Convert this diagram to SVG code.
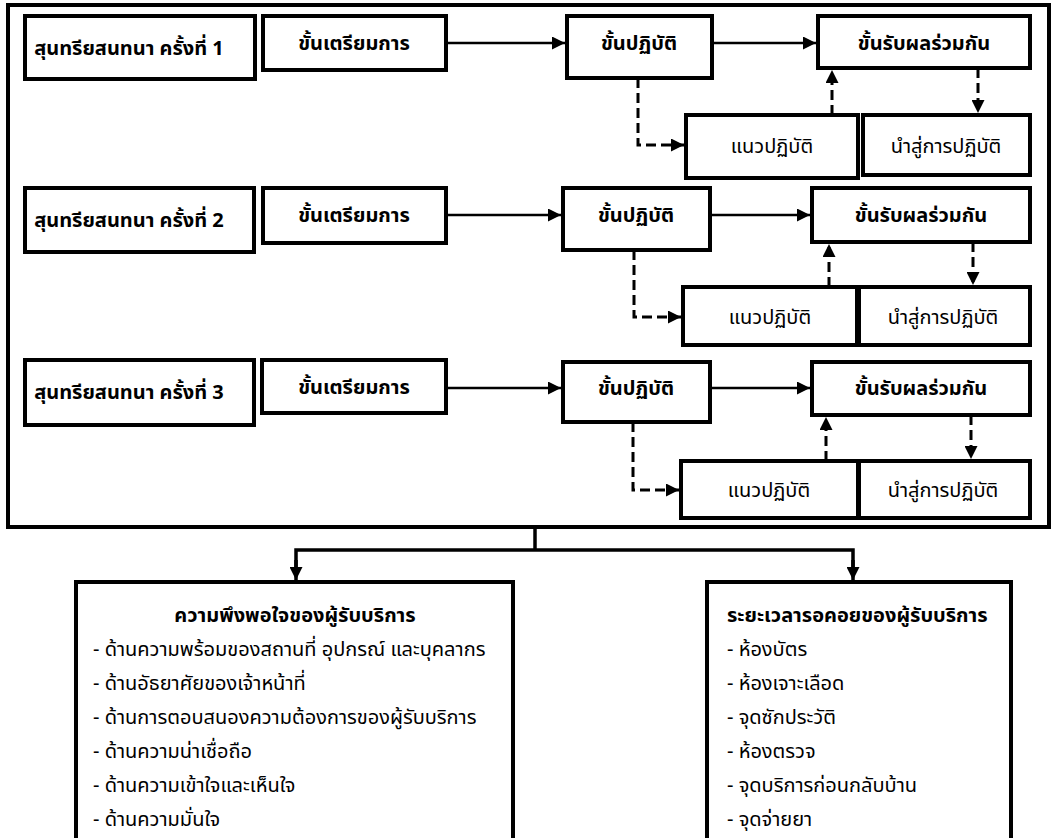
<svg xmlns="http://www.w3.org/2000/svg" width="1057" height="838" viewBox="0 0 1057 838">
<defs>
<marker id="arr" viewBox="0 0 12 12" refX="12" refY="6" markerWidth="13" markerHeight="13" markerUnits="userSpaceOnUse" orient="auto"><path d="M0,0 L12,6 L0,12 Z" fill="#000"/></marker>
</defs>
<style>
.box{fill:#fff;stroke:#000;stroke-width:4}
.frame{fill:#fff;stroke:#000;stroke-width:4}
.t{font-family:"Noto Sans Thai","Noto Sans","Tahoma","DejaVu Sans",sans-serif;font-size:20px;fill:#000}
.b{font-weight:bold}
.c{text-anchor:middle}
.sol{fill:none;stroke:#000;stroke-width:2.5}
.dash{fill:none;stroke:#000;stroke-width:3;stroke-dasharray:10,5}
.thick{fill:none;stroke:#000;stroke-width:3.5}
</style>
<rect width="1057" height="838" fill="#fff"/>
<rect id="frame" class="frame" x="8" y="5" width="1041" height="522"/>

<g id="connectors">
<line class="sol" x1="446" y1="43" x2="565" y2="43" marker-end="url(#arr)"/>
<line class="sol" x1="712" y1="43" x2="816" y2="43" marker-end="url(#arr)"/>
<polyline class="dash" points="638,78 638,145 684,145" marker-end="url(#arr)"/>
<line class="dash" x1="832" y1="115" x2="832" y2="70" marker-end="url(#arr)"/>
<line class="dash" x1="978" y1="68" x2="978" y2="113" marker-end="url(#arr)"/>

<line class="sol" x1="446" y1="215" x2="561" y2="215" marker-end="url(#arr)"/>
<line class="sol" x1="710" y1="215" x2="810" y2="215" marker-end="url(#arr)"/>
<polyline class="dash" points="634,250 634,317 681,317" marker-end="url(#arr)"/>
<line class="dash" x1="829" y1="287" x2="829" y2="244" marker-end="url(#arr)"/>
<line class="dash" x1="973" y1="242" x2="973" y2="285" marker-end="url(#arr)"/>

<line class="sol" x1="446" y1="388" x2="561" y2="388" marker-end="url(#arr)"/>
<line class="sol" x1="710" y1="388" x2="810" y2="388" marker-end="url(#arr)"/>
<polyline class="dash" points="633,422 633,490 679,490" marker-end="url(#arr)"/>
<line class="dash" x1="826" y1="461" x2="826" y2="417" marker-end="url(#arr)"/>
<line class="dash" x1="971" y1="415" x2="971" y2="459" marker-end="url(#arr)"/>

<polyline class="thick" points="535,527 535,550"/>
<polyline class="thick" points="296,570 296,550 853,550 853,570"/>
<line class="thick" x1="296" y1="560" x2="296" y2="580" marker-end="url(#arr)"/>
<line class="thick" x1="853" y1="560" x2="853" y2="580" marker-end="url(#arr)"/>
</g>

<g id="r1a"><rect class="box" x="25" y="16" width="230" height="63"/><text class="t b c" x="129" y="55">สุนทรียสนทนา ครั้งที่ 1</text></g>
<g id="r1b"><rect class="box" x="263" y="16" width="183" height="54"/><text class="t b c" x="354" y="50">ขั้นเตรียมการ</text></g>
<g id="r1c"><rect class="box" x="567" y="16" width="145" height="62"/><text class="t b c" x="639" y="50">ขั้นปฏิบัติ</text></g>
<g id="r1d"><rect class="box" x="818" y="16" width="212" height="52"/><text class="t b c" x="924" y="50">ขั้นรับผลร่วมกัน</text></g>
<g id="r1e"><rect class="box" x="686" y="115" width="172" height="63"/><text class="t c" x="772" y="153">แนวปฏิบัติ</text></g>
<g id="r1f"><rect class="box" x="863" y="115" width="167" height="60"/><text class="t c" x="946" y="153">นำสู่การปฏิบัติ</text></g>

<g id="r2a"><rect class="box" x="25" y="188" width="229" height="64"/><text class="t b c" x="129" y="227">สุนทรียสนทนา ครั้งที่ 2</text></g>
<g id="r2b"><rect class="box" x="263" y="188" width="183" height="55"/><text class="t b c" x="354" y="222">ขั้นเตรียมการ</text></g>
<g id="r2c"><rect class="box" x="563" y="188" width="147" height="62"/><text class="t b c" x="636" y="222">ขั้นปฏิบัติ</text></g>
<g id="r2d"><rect class="box" x="812" y="188" width="218" height="54"/><text class="t b c" x="921" y="222">ขั้นรับผลร่วมกัน</text></g>
<g id="r2e"><rect class="box" x="683" y="287" width="174" height="58"/><text class="t c" x="770" y="324">แนวปฏิบัติ</text></g>
<g id="r2f"><rect class="box" x="859" y="287" width="171" height="58"/><text class="t c" x="943" y="324">นำสู่การปฏิบัติ</text></g>

<g id="r3a"><rect class="box" x="25" y="360" width="229" height="65"/><text class="t b c" x="129" y="399">สุนทรียสนทนา ครั้งที่ 3</text></g>
<g id="r3b"><rect class="box" x="262" y="360" width="184" height="53"/><text class="t b c" x="354" y="394">ขั้นเตรียมการ</text></g>
<g id="r3c"><rect class="box" x="563" y="362" width="147" height="60"/><text class="t b c" x="636" y="395">ขั้นปฏิบัติ</text></g>
<g id="r3d"><rect class="box" x="812" y="362" width="218" height="53"/><text class="t b c" x="921" y="395">ขั้นรับผลร่วมกัน</text></g>
<g id="r3e"><rect class="box" x="681" y="461" width="177" height="57"/><text class="t c" x="769" y="497">แนวปฏิบัติ</text></g>
<g id="r3f"><rect class="box" x="859" y="461" width="171" height="57"/><text class="t c" x="943" y="497">นำสู่การปฏิบัติ</text></g>

<g id="satisfaction"><rect class="box" x="76" y="582" width="437" height="262"/>
<text class="t b c" x="295" y="622">ความพึงพอใจของผู้รับบริการ</text>
<text class="t" x="93" y="656">- ด้านความพร้อมของสถานที่ อุปกรณ์ และบุคลากร</text>
<text class="t" x="93" y="690">- ด้านอัธยาศัยของเจ้าหน้าที่</text>
<text class="t" x="93" y="724">- ด้านการตอบสนองความต้องการของผู้รับบริการ</text>
<text class="t" x="93" y="758">- ด้านความน่าเชื่อถือ</text>
<text class="t" x="93" y="792">- ด้านความเข้าใจและเห็นใจ</text>
<text class="t" x="93" y="826">- ด้านความมั่นใจ</text>
</g>
<g id="waiting"><rect class="box" x="707" y="582" width="304" height="262"/>
<text class="t b" x="727" y="622">ระยะเวลารอคอยของผู้รับบริการ</text>
<text class="t" x="727" y="656">- ห้องบัตร</text>
<text class="t" x="727" y="690">- ห้องเจาะเลือด</text>
<text class="t" x="727" y="724">- จุดซักประวัติ</text>
<text class="t" x="727" y="758">- ห้องตรวจ</text>
<text class="t" x="727" y="792">- จุดบริการก่อนกลับบ้าน</text>
<text class="t" x="727" y="826">- จุดจ่ายยา</text>
</g>
</svg>
